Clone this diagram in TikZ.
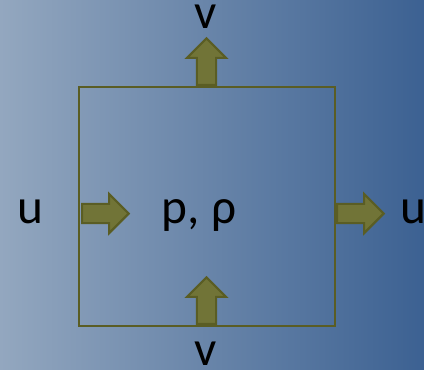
\documentclass[tikz,border=0pt]{standalone}
\usepackage{fontspec}
\setmainfont{Carlito}
\usetikzlibrary{shapes.arrows}
\definecolor{bgleft}{HTML}{93A7BF}
\definecolor{bgright}{HTML}{3C6192}
\definecolor{olivefill}{HTML}{717437}
\definecolor{olivedraw}{HTML}{5A5D24}
\tikzset{
  flux/.style={single arrow, draw=olivedraw, fill=olivefill, line width=1.6pt,
    minimum height=35pt, minimum width=27.75pt, inner sep=6.4pt,
    single arrow head extend=7.5pt, single arrow head indent=0pt, anchor=tail},
  lab/.style={anchor=base, font=\fontsize{37}{43}\selectfont, text=black, inner sep=0pt}
}
\begin{document}
\begin{tikzpicture}[x=0.75pt,y=-0.75pt]
\useasboundingbox (0,0) rectangle (424,369);
\shade[left color=bgleft, right color=bgright] (0,0) rectangle (424,369);
\node[draw=olivedraw, line width=2.2pt, minimum width=192pt, minimum height=179.25pt, inner sep=0pt] (box) at (207,206.5) {};
\node[flux, shape border rotate=90] (top) at (206.5,86) {};
\node[flux, shape border rotate=90] (bot) at (206.5,325) {};
\node[flux] (left) at (81,213.5) {};
\node[flux] (right) at (336,213.5) {};
\node[lab] (vtop) at (205.5,28) {v};
\node[lab] (vbot) at (205.5,365) {v};
\node[lab] (uleft) at (30,223) {u};
\node[lab] (uright) at (413,223) {u};
\node[lab] (p) at (199,223) {p, ρ};
\end{tikzpicture}
\end{document}
